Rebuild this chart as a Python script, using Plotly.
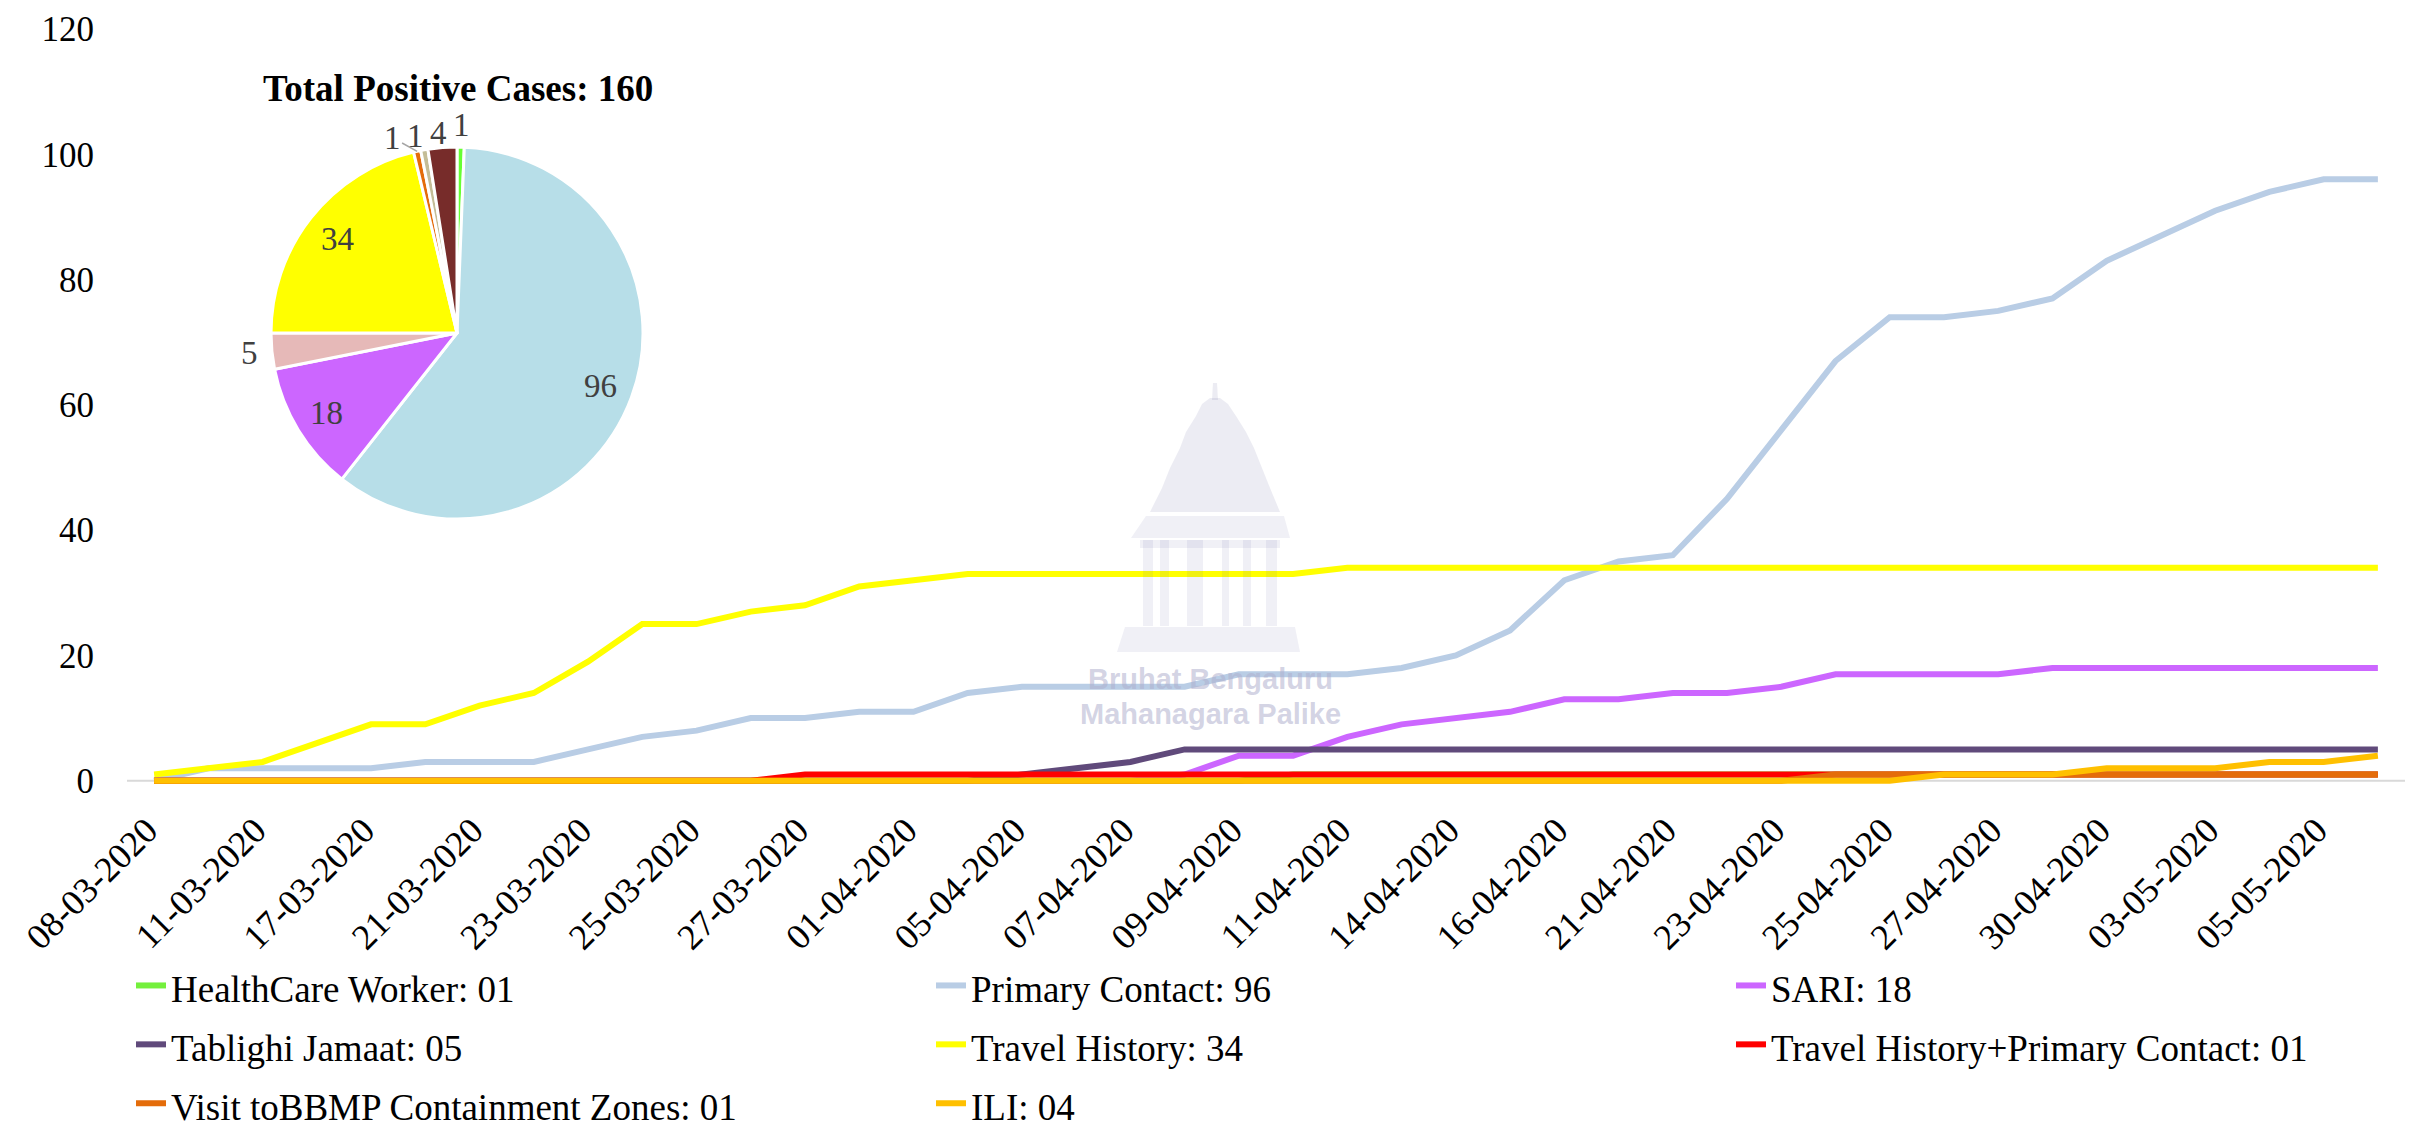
import math
import plotly.graph_objects as go

# ---------------- data ----------------
dates = ["08-03-2020", "09-03-2020", "11-03-2020", "14-03-2020", "17-03-2020", "19-03-2020",
         "21-03-2020", "22-03-2020", "23-03-2020", "24-03-2020", "25-03-2020", "26-03-2020",
         "27-03-2020", "29-03-2020", "01-04-2020", "03-04-2020", "05-04-2020", "06-04-2020",
         "07-04-2020", "08-04-2020", "09-04-2020", "10-04-2020", "11-04-2020", "13-04-2020",
         "14-04-2020", "15-04-2020", "16-04-2020", "18-04-2020", "21-04-2020", "22-04-2020",
         "23-04-2020", "24-04-2020", "25-04-2020", "26-04-2020", "27-04-2020", "28-04-2020",
         "30-04-2020", "01-05-2020", "03-05-2020", "04-05-2020", "05-05-2020", "06-05-2020"]

healthcare_worker = [0]*21 + [1]*21
primary_contact = [0, 2, 2, 2, 2, 3, 3, 3, 5, 7, 8, 10, 10, 11, 11, 14, 15, 15, 15, 15, 17,
                   17, 17, 18, 20, 24, 32, 35, 36, 45, 56, 67, 74, 74, 75, 77, 83, 87, 91,
                   94, 96, 96]
sari = [0]*19 + [1, 4, 4, 7, 9, 10, 11, 13, 13, 14, 14, 15, 17, 17, 17, 17, 18, 18, 18, 18,
                 18, 18, 18]
tablighi_jamaat = [0]*16 + [1, 2, 3] + [5]*23
travel_history = [1, 2, 3, 6, 9, 9, 12, 14, 19, 25, 25, 27, 28, 31, 32, 33, 33, 33, 33, 33,
                  33, 33] + [34]*20
travel_primary = [0]*12 + [1]*30
visit_bbmp = [0]*31 + [1]*11
ili = [0]*33 + [1, 1, 1, 2, 2, 2, 3, 3, 4]

series_names = ["HealthCare Worker: 01", "Primary Contact: 96", "SARI: 18", "Tablighi Jamaat: 05",
                "Travel History: 34", "Travel History+Primary Contact: 01",
                "Visit toBBMP Containment Zones: 01", "ILI: 04"]
series_values = [healthcare_worker, primary_contact, sari, tablighi_jamaat, travel_history,
                 travel_primary, visit_bbmp, ili]
line_colors = ["#74F03C", "#B9CDE5", "#CC66FF", "#604A7B", "#FFFF00", "#FF0000", "#E46C0A",
               "#FFC000"]

pie_labels = ["HealthCare Worker", "Primary Contact", "SARI", "Tablighi Jamaat",
              "Travel History", "Travel History+Primary Contact",
              "Visit toBBMP Containment Zones", "ILI"]
pie_values = [1, 96, 18, 5, 34, 1, 1, 4]
pie_colors = ["#66FF33", "#B7DEE8", "#CC66FF", "#E6B9B8", "#FFFF00", "#E46C0A", "#C4BD97",
              "#772C2A"]
pie_title = "Total Positive Cases: 160"

y_ticks = [0, 20, 40, 60, 80, 100, 120]

SERIF = "Liberation Serif, Times New Roman, serif"

# ---------------- geometry ----------------
# the page body adds an 8px margin, so the figure is sized to fit the window exactly
OFF = 8
W, H = 2422 - OFF, 1127 - OFF
ml, mr, mt, mb = 127 - OFF, 17, 29 - OFF, 340
pw, ph = W - ml - mr, H - mt - mb


def px2paper(px, py):
    """screen pixel -> paper coords"""
    fx, fy = px - OFF, py - OFF
    return (fx - ml) / pw, (mt + ph - fy) / ph


fig = go.Figure()

LEGEND_TEXT_PX = 37
for name, vals, col in zip(series_names, series_values, line_colors):
    fig.add_trace(go.Scatter(
        x=dates, y=vals, mode="lines", line=dict(color=col, width=6),
        name=f'<span style="font-size:{LEGEND_TEXT_PX}px">{name}</span>',
        hovertemplate=name + "<br>%{x}: %{y}<extra></extra>"))

# ---------------- inset pie ----------------
cx, cy, r = 457, 333, 186
dx0, dy0 = px2paper(cx - r, cy + r)
dx1, dy1 = px2paper(cx + r, cy - r)
fig.add_trace(go.Pie(
    labels=pie_labels, values=pie_values, sort=False, direction="clockwise", rotation=0,
    marker=dict(colors=pie_colors, line=dict(color="white", width=3)),
    textinfo="none", showlegend=False, hoverinfo="label+value",
    domain=dict(x=[dx0, dx1], y=[dy0, dy1]),
))

LABEL_FONT = dict(family=SERIF, size=33, color="#404040")


def text_at(txt, x, y, font):
    ax_, ay_ = px2paper(x, y)
    fig.add_annotation(text=txt, xref="paper", yref="paper", x=ax_, y=ay_,
                       xanchor="center", yanchor="middle", showarrow=False, font=font)


# pie value labels, placed from the slice angles
total = sum(pie_values)
cum = 0
inside, outside = [], []
for v in pie_values:
    mid = (cum + v / 2) / total * 2 * math.pi
    cum += v
    if v / total > 0.05:
        d = 0.82 * r
        inside.append((v, cx + d * math.sin(mid), cy - d * math.cos(mid)))
    else:
        d = 1.12 * r
        outside.append([v, cx + d * math.sin(mid), cy - d * math.cos(mid), mid])

for v, x, y in inside:
    text_at(str(v), x, y, LABEL_FONT)

# resolve collisions among the top labels (right to left)
top = sorted([o for o in outside if (cy - o[2]) > 0.9 * r], key=lambda o: -o[1])
prev_x = None
for o in top:
    if prev_x is not None and o[1] > prev_x - 23:
        o.append(True)
        o[1] = prev_x - 23
        o[2] += 8
    prev_x = o[1]

for o in outside:
    v, x, y, mid = o[:4]
    if len(o) > 4:
        ex, ey = cx + 1.0 * r * math.sin(mid), cy - 1.0 * r * math.cos(mid)
        exp, eyp = px2paper(ex, ey)
        fig.add_annotation(text=str(v), xref="paper", yref="paper", x=exp, y=eyp,
                           ax=x - ex, ay=y - ey, axref="pixel", ayref="pixel",
                           xanchor="center", yanchor="middle",
                           showarrow=True, arrowhead=0, arrowwidth=1.5, arrowcolor="#A6A6A6",
                           standoff=0, font=LABEL_FONT)
    else:
        text_at(str(v), x, y, LABEL_FONT)

text_at("<b>" + pie_title + "</b>", cx + 1, 88, dict(family=SERIF, size=37, color="black"))

# ---------------- faint BBMP watermark ----------------
wm_fill = "rgba(110,110,165,0.10)"
wm_dark = "rgba(110,110,165,0.13)"


def poly(points, fill):
    path = "M " + " L ".join(f"{px2paper(x, y)[0]:.5f},{px2paper(x, y)[1]:.5f}" for x, y in points) + " Z"
    fig.add_shape(type="path", xref="paper", yref="paper", path=path, fillcolor=fill,
                  line=dict(width=0), layer="above")


poly([(1213, 383), (1217, 383), (1218, 400), (1212, 400)], wm_dark)
poly([(1210, 398), (1202, 404), (1196, 416), (1186, 432), (1180, 448), (1170, 468), (1162, 488),
      (1150, 512), (1280, 512), (1270, 488), (1262, 468), (1254, 448), (1246, 432), (1236, 416),
      (1228, 404), (1220, 398)], wm_dark)
poly([(1146, 516), (1284, 516), (1290, 538), (1131, 538)], wm_fill)
for xa, xb in [(1143, 1153), (1160, 1169), (1187, 1203), (1222, 1229), (1243, 1251), (1266, 1277)]:
    poly([(xa, 540), (xb, 540), (xb, 626), (xa, 626)], wm_fill)
poly([(1140, 540), (1280, 540), (1280, 548), (1140, 548)], wm_fill)
poly([(1125, 627), (1295, 627), (1300, 652), (1117, 652)], wm_fill)

WM_FONT = dict(family="Liberation Sans Narrow, Arial Narrow, Liberation Sans, sans-serif",
               size=29, color="rgba(175,175,205,0.55)")
text_at("<b>Bruhat Bengaluru</b>", 1210, 679, WM_FONT)
text_at("<b>Mahanagara Palike</b>", 1210, 714, WM_FONT)

# baseline at zero
fig.add_shape(type="line", xref="paper", yref="y", x0=0, x1=1, y0=0, y1=0,
              line=dict(color="#D9D9D9", width=2), layer="below")

lx, ly = px2paper(125, 951)
fig.update_layout(
    width=W, height=H,
    margin=dict(l=ml, r=mr, t=mt, b=mb, autoexpand=False),
    paper_bgcolor="white", plot_bgcolor="white",
    font=dict(family=SERIF, size=35, color="black"),
    xaxis=dict(type="category", range=[-0.5, len(dates) - 0.5], tickmode="array",
               tickvals=dates[::2], ticktext=dates[::2], tickangle=-45,
               showgrid=False, zeroline=False, showline=False, ticks="",
               ticklabelstandoff=14, ticklabelshift=-7,
               tickfont=dict(family=SERIF, size=36), automargin=False),
    yaxis=dict(range=[-1, 120], tickmode="array", tickvals=y_ticks, showgrid=False,
               zeroline=False, showline=False, ticks="", ticklabelstandoff=32,
               ticklabeloverflow="allow",
               tickfont=dict(family=SERIF, size=35), automargin=False),
    legend=dict(orientation="h", x=lx, xanchor="left", y=ly, yanchor="top",
                entrywidth=749, entrywidthmode="pixels", indentation=6,
                font=dict(family=SERIF, size=43), bgcolor="rgba(0,0,0,0)"),
    showlegend=True,
)

fig.write_html("out.html")
